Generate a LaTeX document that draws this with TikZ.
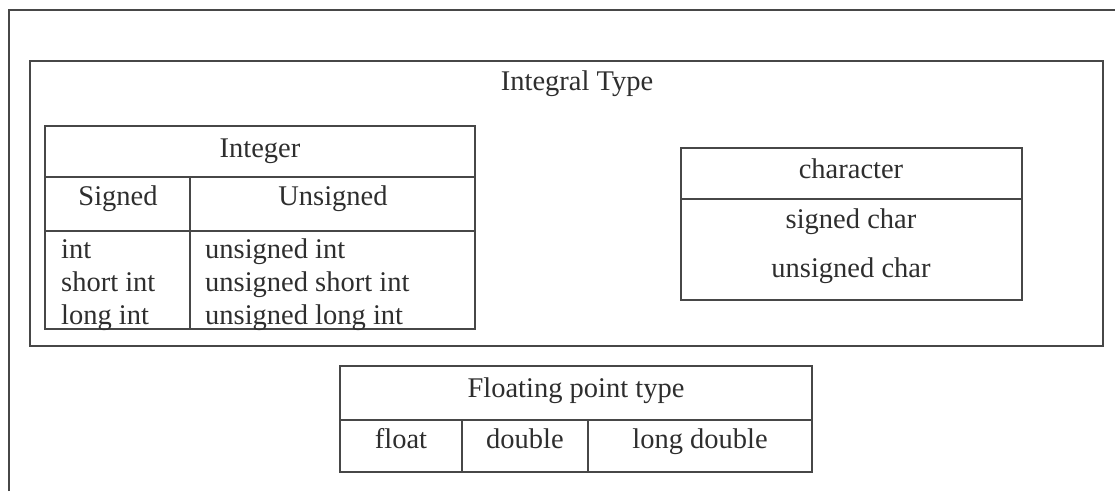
\documentclass[tikz,border=0pt]{standalone}
\usepackage{fontspec}
\setmainfont{Liberation Serif}

\begin{document}
\begin{tikzpicture}[x=1pt, y=-1pt,
    line/.style={draw=black!72, line width=1.7pt},
    lbl/.style={anchor=base, inner sep=0pt, text=black!82, font=\fontsize{28.5}{33}\selectfont},
    lblw/.style={lbl, anchor=base west}]
  \useasboundingbox (0,0) rectangle (1115,491);
  % outer frame, cut off by the page
  \draw[line] (9,491) -- (9,10) -- (1115,10);
  % integral type
  \draw[line] (30,61) rectangle (1103,346);
  \node[lbl] (integral) at (577,90) {Integral Type};
  % integer table
  \draw[line] (45,126) rectangle (475,329);
  \draw[line] (45,177) -- (475,177) (45,231) -- (475,231) (190,177) -- (190,329);
  \node[lbl] (integer) at (260,157) {Integer};
  \node[lbl] (signed) at (118,205) {Signed};
  \node[lbl] (unsigned) at (333,205) {Unsigned};
  \node[lblw] (int) at (61,258) {int};
  \node[lblw] (shortint) at (61,291) {short int};
  \node[lblw] (longint) at (61,324) {long int};
  \node[lblw] (uint) at (205,258) {unsigned int};
  \node[lblw] (ushortint) at (205,291) {unsigned short int};
  \node[lblw] (ulongint) at (205,324) {unsigned long int};
  % character table
  \draw[line] (681,300) -- (681,148) -- (1022,148) -- (1022,300);
  \draw[line] (681,199) -- (1022,199);
  \draw[line, line width=2.6pt] (680,300) -- (1023,300);
  \node[lbl] (character) at (851,178) {character};
  \node[lbl] (schar) at (851,228) {signed char};
  \node[lbl] (uchar) at (851,277) {unsigned char};
  % floating point table
  \draw[line] (340,366) rectangle (812,472);
  \draw[line] (340,420) -- (812,420) (462,420) -- (462,472) (588,420) -- (588,472);
  \node[lbl] (floating) at (576,397) {Floating point type};
  \node[lbl] (float) at (401,448) {float};
  \node[lbl] (double) at (525,448) {double};
  \node[lbl] (ldouble) at (700,448) {long double};
\end{tikzpicture}
\end{document}
